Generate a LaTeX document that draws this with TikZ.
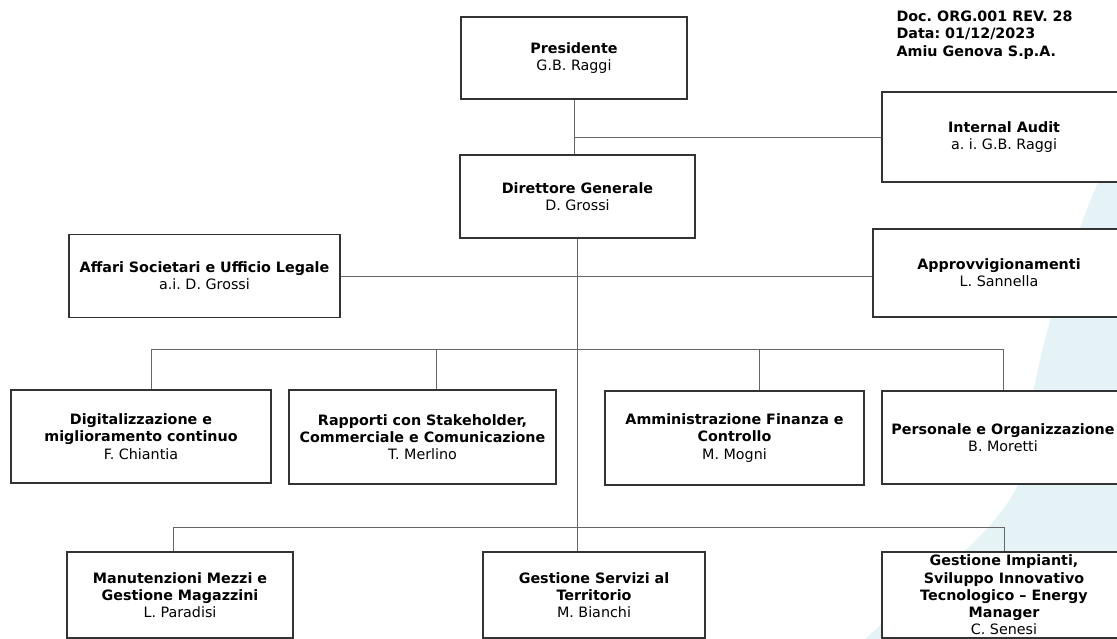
\documentclass[tikz,border=0pt]{standalone}
\usepackage{fontspec}
\setmainfont{DejaVu Sans}
\usetikzlibrary{positioning, calc}
\definecolor{filigrane}{RGB}{229,243,246}
\frenchspacing

\begin{document}
\begin{tikzpicture}[x=1pt, y=-1pt,
    poste/.style={draw=black!80, line width=1.1pt, fill=white, align=center, inner sep=1pt, font=\fontsize{14.3}{17.3}\selectfont},
    lien/.style={draw=black!60, line width=0.8pt}]
    % Cadre de la page (1117 x 639)
    \useasboundingbox (0,0) rectangle (1117,639);
    \clip (0,0) rectangle (1117,639);
    \fill[white] (0,0) rectangle (1117,639);
    % Filigrane bleu clair a droite
    \fill[filigrane] (1117,140) .. controls (1060,260) and (1030,380) .. (1020,480) .. controls (1000,530) and (930,580) .. (865,639) -- (1117,639) -- cycle;
    % En-tete du document
    \node[anchor=west, align=left, font=\fontsize{14.3}{17.3}\selectfont\bfseries] (entete) at (893,35) {Doc. ORG.001 REV. 28\\Data: 01/12/2023\\Amiu Genova S.p.A.};
    % Sommet
    \node[poste, minimum width=226pt, minimum height=82pt] (pres) at (574,58) {\textbf{Presidente}\\G.B. Raggi};
    \node[poste, minimum width=235pt, minimum height=83pt] (dg) at (577.5,196.5) {\textbf{Direttore Generale}\\D. Grossi};
    \node[poste, minimum width=244pt, minimum height=90pt] (audit) at (1004,137) {\textbf{Internal Audit}\\a. i. G.B. Raggi};
    % Staff
    \node[poste, minimum width=271pt, minimum height=83pt] (affari) at (204.5,276) {\textbf{Affari Societari e Ufficio Legale}\\a.i. D. Grossi};
    \node[poste, minimum width=252pt, minimum height=88pt] (approv) at (999,273) {\textbf{Approvvigionamenti}\\L. Sannella};
    % Deuxieme niveau
    \node[poste, minimum width=260pt, minimum height=93pt] (digit) at (141,436.5) {\textbf{Digitalizzazione e}\\\textbf{miglioramento continuo}\\F. Chiantia};
    \node[poste, minimum width=267pt, minimum height=94pt] (rapp) at (422.5,437) {\textbf{Rapporti con Stakeholder,}\\\textbf{Commerciale e Comunicazione}\\T. Merlino};
    \node[poste, minimum width=259pt, minimum height=94pt] (ammin) at (734.5,438) {\textbf{Amministrazione Finanza e}\\\textbf{Controllo}\\M. Mogni};
    \node[poste, minimum width=242pt, minimum height=93pt] (perso) at (1003,437.5) {\textbf{Personale e Organizzazione}\\B. Moretti};
    % Troisieme niveau
    \node[poste, minimum width=226pt, minimum height=86pt] (manut) at (180,595) {\textbf{Manutenzioni Mezzi e}\\\textbf{Gestione Magazzini}\\L. Paradisi};
    \node[poste, minimum width=222pt, minimum height=86pt] (servizi) at (594,595) {\textbf{Gestione Servizi al}\\\textbf{Territorio}\\M. Bianchi};
    \node[poste, minimum width=244pt, minimum height=86pt, inner ysep=0pt] (impianti) at (1004,595) {\textbf{Gestione Impianti,}\\\textbf{Sviluppo Innovativo}\\\textbf{Tecnologico – Energy}\\\textbf{Manager}\\C. Senesi};
    % Liaisons
    \draw[lien] (pres.south) -- (pres.south |- dg.north);
    \draw[lien] (pres.south |- audit.west) -- (audit.west);
    \draw[lien] (dg.south) -- (dg.south |- servizi.north);
    \draw[lien] (affari.east) -- (affari.east -| approv.west);
    \coordinate (bus1) at ($(dg.south)+(0,111)$);
    \coordinate (bus2) at ($(dg.south)+(0,289)$);
    \draw[lien] ([xshift=10pt]digit.north) |- (bus1) -| (perso.north);
    \draw[lien] ([xshift=13.5pt]rapp.north) -- ([xshift=13.5pt]rapp.north |- bus1);
    \draw[lien] ([xshift=24.5pt]ammin.north) -- ([xshift=24.5pt]ammin.north |- bus1);
    \draw[lien] ([xshift=-7pt]manut.north) |- (bus2) -| (impianti.north);
\end{tikzpicture}
\end{document}
